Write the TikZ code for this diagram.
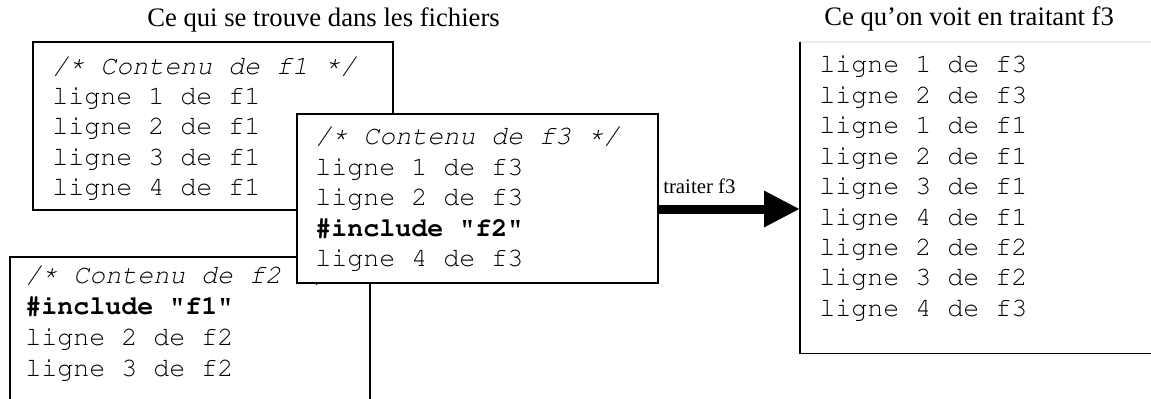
\documentclass[tikz,border=0pt]{standalone}
\usepackage[T1]{fontenc}
\usepackage{fontspec}
\setmainfont{Liberation Serif}
\newcommand{\mycodefont}{\fontencoding{T1}\fontfamily{pcr}\fontseries{m}\fontshape{n}\fontsize{20}{22}\selectfont}
\newcommand{\hiast}{\raisebox{0.28ex}{*}}
\usetikzlibrary{arrows.meta}
\begin{document}
\begin{tikzpicture}[x=0.75pt,y=-0.75pt,
  box/.style={draw=black, line width=1.4pt, fill=white, rectangle, anchor=north west, inner sep=0pt},
  code/.style={font=\mycodefont, anchor=base west, inner sep=0pt},
  codeit/.style={code, font=\mycodefont\fontshape{sl}\selectfont},
  codebf/.style={code, font=\mycodefont\fontseries{b}\selectfont},
  titletext/.style={font=\fontsize{20}{24}\selectfont, anchor=base west, inner sep=0pt},
  labeltext/.style={font=\fontsize{15.6}{18}\selectfont, anchor=base west, inner sep=0pt},
  edge/.style={line width=1.4pt, draw=black},
  bigarrow/.style={line width=6.75pt, -{Triangle[length=27pt,width=25.5pt]}}]
\useasboundingbox (0,0) rectangle (1151,399);

% titles
\node[titletext] (t1) at (147,27) {Ce qui se trouve dans les fichiers};
\node[titletext] (t2) at (824,26) {Ce qu’on voit en traitant f3};

% f1 box
\node[box, minimum width=270pt, minimum height=126pt] (f1) at (32,41) {};
\node[codeit] (f1a) at (52,74.3) {/\hiast{} Contenu de f1 \hiast/};
\foreach \i in {1,...,4}
  \node[code] (f1l\i) at (52,{74.3+30.35*\i}) {ligne \i{} de f1};

% f2 box
\node[box, minimum width=270pt, minimum height=160pt] (f2) at (9,256) {};
\node[codeit] (f2a) at (25,283.3) {/\hiast{} Contenu de f2 \hiast/};
\node[codebf] (f2b) at (25,314.4) {\#include "f1"};
\node[code] (f2c) at (25,345.5) {ligne 2 de f2};
\node[code] (f2d) at (25,376.6) {ligne 3 de f2};

% f3 box
\node[box, minimum width=270.75pt, minimum height=126.75pt] (f3) at (296,113) {};
\node[codeit] (f3a) at (315,145) {/\hiast{} Contenu de f3 \hiast/};
\node[code] (f3b) at (315,175.4) {ligne 1 de f3};
\node[code] (f3c) at (315,205.8) {ligne 2 de f3};
\node[codebf] (f3d) at (315,236.2) {\#include "f2"};
\node[code] (f3e) at (315,266.6) {ligne 4 de f3};

% result box
\node[rectangle, fill=white, inner sep=0pt, anchor=north west, minimum width=300pt, minimum height=233.25pt] (rb) at (800,42) {};
\draw[draw=black!8, line width=1pt] (rb.north west) -- (rb.north east);
\draw[edge] (rb.north west) -- (rb.south west) -- (rb.south east);
\foreach [count=\k from 0] \t in {ligne 1 de f3, ligne 2 de f3, ligne 1 de f1, ligne 2 de f1, ligne 3 de f1, ligne 4 de f1, ligne 2 de f2, ligne 3 de f2, ligne 4 de f3}
  \node[code] (r\k) at (819,{73+30.4*\k}) {\t};

% arrow
\coordinate (ay) at (0,209);
\draw[bigarrow] (f3.east |- ay) -- (rb.west |- ay);
\node[labeltext] (lab) at (663,193) {traiter f3};
\end{tikzpicture}
\end{document}
